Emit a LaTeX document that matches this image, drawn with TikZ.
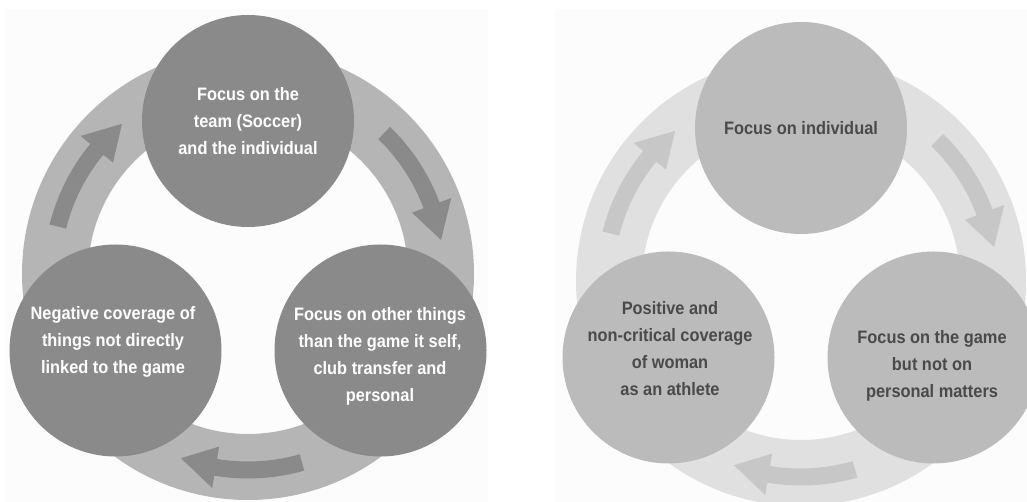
\documentclass[tikz,border=0pt]{standalone}
\usepackage{fontspec}
\setmainfont{Liberation Sans}[FakeStretch=0.91]
\definecolor{panel}{HTML}{FCFCFC}
\definecolor{dkcirc}{HTML}{8A8A8A}
\definecolor{dkring}{HTML}{B5B5B5}
\definecolor{ltcirc}{HTML}{BBBBBB}
\definecolor{ltring}{HTML}{E0E0E0}
\definecolor{ltarrow}{HTML}{C7C7C7}
\definecolor{lttext}{HTML}{4A4A4A}
\tikzset{
  bubbletext/.style={align=center, font=\fontsize{18}{27}\selectfont\bfseries},
  bubble/.style={circle, minimum size=212pt, inner sep=0pt, bubbletext},
  darkbubble/.style={bubble, fill=dkcirc, text=white},
  lightbubble/.style={bubble, fill=ltcirc, text=lttext},
}
\newcommand{\ringarrow}[2]{% rotation, colour
  \fill[#2, rotate=#1] (46:204.5) arc[start angle=46, end angle=20.5, radius=204.5]
    -- (20.5:217) -- (10:196) -- (20.5:175) -- (20.5:187.5)
    arc[start angle=20.5, end angle=46, radius=187.5] -- cycle;}
\begin{document}
\begin{tikzpicture}[x=1pt, y=1pt]
\useasboundingbox (0,0) rectangle (1027,502);
\clip (0,0) rectangle (1027,502);
\fill[white] (0,0) rectangle (1027,502);
\fill[panel] (5,0) rectangle (488,493);
\fill[panel] (555,0) rectangle (1027,493);
% left cycle
\begin{scope}[shift={(248,228)}]
  \fill[dkring, even odd rule] (0,0) circle[radius=226] (0,0) circle[radius=160];
  \ringarrow{0}{dkcirc}
  \ringarrow{120}{dkcirc}
  \ringarrow{-120}{dkcirc}
  \node[darkbubble] (la) at (90:153) {Focus on the\\team (Soccer)\\and the individual};
  \node[darkbubble] (lb) at (-30:153) {};
  \node[darkbubble] (lc) at (210:153) {};
\end{scope}
\node[bubbletext, text=white] (lbt) at (380,146) {Focus on other things\\than the game it self,\\club transfer and\\personal};
\node[bubbletext, text=white] (lct) at (113,160) {Negative coverage of\\things not directly\\linked to the game};
% right cycle
\begin{scope}[shift={(801,221)}]
  \fill[ltring, even odd rule] (0,0) circle[radius=225] (0,0) circle[radius=159];
  \ringarrow{0}{ltarrow}
  \ringarrow{120}{ltarrow}
  \ringarrow{-120}{ltarrow}
  \node[lightbubble] (ra) at (90:153) {Focus on individual};
  \node[lightbubble] (rb) at (-30:153) {};
  \node[lightbubble] (rc) at (210:153) {};
\end{scope}
\node[bubbletext, text=lttext] (rbt) at (932,136) {Focus on the game\\but not on\\personal matters};
\node[bubbletext, text=lttext] (rct) at (670,153) {Positive and\\non-critical coverage\\of woman\\as an athlete};
\end{tikzpicture}
\end{document}
